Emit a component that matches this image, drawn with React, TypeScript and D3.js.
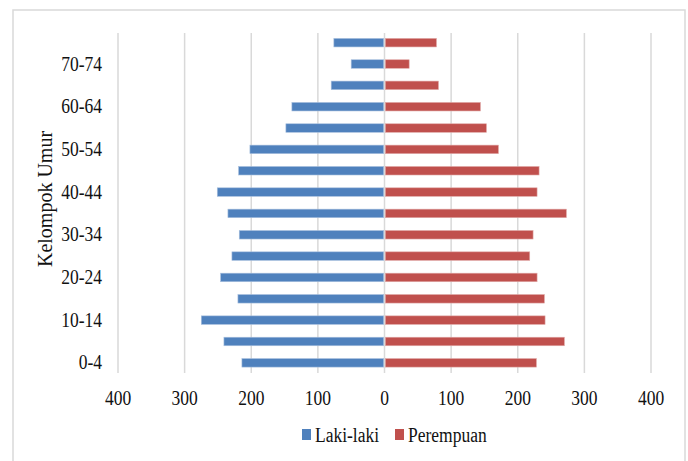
import * as d3 from 'd3'

const AGE_GROUPS = [
  '0-4', '5-9', '10-14', '15-19', '20-24', '25-29', '30-34', '35-39',
  '40-44', '45-49', '50-54', '55-59', '60-64', '65-69', '70-74', '75+',
]
const LAKI_LAKI = [214, 241, 275, 220, 246, 229, 218, 235, 251, 219, 202, 148, 139, 80, 50, 76]
const PEREMPUAN = [228, 270, 241, 240, 229, 218, 223, 273, 229, 232, 171, 153, 144, 81, 37, 78]
const X_TICKS = [-400, -300, -200, -100, 0, 100, 200, 300, 400]
const SHOWN_LABELS = ['0-4', '10-14', '20-24', '30-34', '40-44', '50-54', '60-64', '70-74']

const W = 688
const H = 461
const BLUE = '#4f81bd'
const RED = '#c0504d'
const GRID = '#d9d9d9'
const FONT = '"Liberation Serif", "Times New Roman", serif'
const FS = 17.5
const SY = 1.17 // picture is a bit stretched vertically

function Label({ x, y, anchor = 'start', children }: {
  x: number
  y: number
  anchor?: string
  children: string
}) {
  return (
    <text
      transform={`translate(${x},${y}) scale(1,${SY})`}
      textAnchor={anchor}
      fontFamily={FONT}
      fontSize={FS}
      fill="#111"
    >
      {children}
    </text>
  )
}

export default function App() {
  const x = d3.scaleLinear().domain([-400, 400]).range([118, 651])
  const y = d3
    .scaleBand<string>()
    .domain([...AGE_GROUPS].reverse())
    .range([32, 373.5])
    .paddingInner(0.6)
    .paddingOuter(0.3)
  const bw = y.bandwidth()
  const plotTop = 33
  const plotBottom = 373

  return (
    <svg
      width={W}
      height={H}
      style={{ position: 'absolute', left: 0, top: 0, background: '#fff' }}
    >
      <rect x={13} y={10} width={672} height={470} fill="#fff" stroke={GRID} strokeWidth={1.5} />

      <g className="grid">
        {X_TICKS.map((t) => (
          <line
            key={t}
            x1={x(t)}
            x2={x(t)}
            y1={plotTop}
            y2={plotBottom}
            stroke={GRID}
            strokeWidth={1.5}
          />
        ))}
      </g>

      <g className="bars">
        {AGE_GROUPS.map((g, i) => (
          <g key={g}>
            <rect
              x={x(-LAKI_LAKI[i])}
              y={y(g)!}
              width={x(0) - x(-LAKI_LAKI[i]) - 0.8}
              height={bw}
              fill={BLUE}
              stroke="#a9c0de"
              strokeWidth={0.6}
            />
            <rect
              x={x(0) + 0.8}
              y={y(g)!}
              width={x(PEREMPUAN[i]) - x(0) - 0.8}
              height={bw}
              fill={RED}
              stroke="#e0a9a7"
              strokeWidth={0.6}
            />
          </g>
        ))}
      </g>

      <g className="x-axis">
        {X_TICKS.map((t) => (
          <Label key={t} x={x(t)} y={405} anchor="middle">
            {String(Math.abs(t))}
          </Label>
        ))}
      </g>

      <g className="y-axis">
        {SHOWN_LABELS.map((g) => (
          <Label key={g} x={102} y={y(g)! + bw / 2 + 6.5} anchor="end">
            {g}
          </Label>
        ))}
        <text
          transform="translate(52,199) rotate(-90)"
          textAnchor="middle"
          fontFamily={FONT}
          fontSize={20}
          fill="#111"
        >
          Kelompok Umur
        </text>
      </g>

      <g className="legend">
        <rect x={302} y={429} width={9} height={11} fill={BLUE} />
        <Label x={315} y={442}>Laki-laki</Label>
        <rect x={395} y={429} width={9} height={11} fill={RED} />
        <Label x={408} y={442}>Perempuan</Label>
      </g>
    </svg>
  )
}
